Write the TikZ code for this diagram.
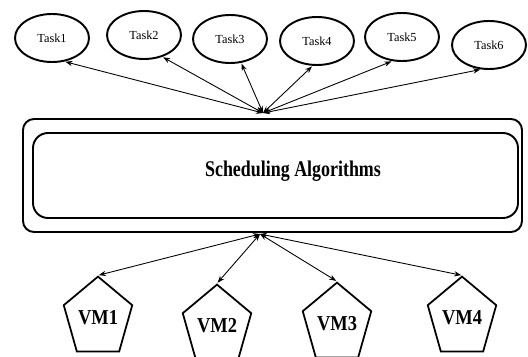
\documentclass[tikz,border=0pt]{standalone}
\usepackage{fontspec}
\setmainfont{Liberation Serif}
\usetikzlibrary{arrows.meta,shapes.geometric}

\tikzset{
    task/.style={draw, ellipse, line width=1.1pt, minimum width=1.48cm, minimum height=0.96cm, inner sep=0pt, font=\fontsize{7}{8}\selectfont},
    vm/.style={draw, regular polygon, regular polygon sides=5, line width=1pt, minimum size=1.44cm, inner sep=0pt, yscale=1.15, font=\fontsize{10.5}{12}\selectfont\bfseries},
    box/.style={draw, rounded corners=0.22cm, line width=1.1pt, inner sep=0pt},
    link/.style={<->, line width=0.5pt, shorten >=0.5pt},
    >={Stealth[length=4pt,width=3pt]}
}

\begin{document}
\begin{tikzpicture}
        \useasboundingbox (0,0) rectangle (10.56,7.12);

        % Tasks
        \node[task] (task1) at (1.04,6.36) {Task1};
        \node[task] (task2) at (2.88,6.42) {Task2};
        \node[task] (task3) at (4.60,6.34) {Task3};
        \node[task] (task4) at (6.34,6.30) {Task4};
        \node[task] (task5) at (8.04,6.38) {Task5};
        \node[task] (task6) at (9.78,6.22) {Task6};

        % Scheduler boxes
        \node[box, minimum width=9.98cm, minimum height=2.26cm] (outer) at (5.45,3.61) {};
        \node[box, rounded corners=0.3cm, minimum width=9.70cm, minimum height=1.70cm] (inner) at (5.51,3.61) {};
        \node[font=\fontsize{10.2}{12}\selectfont\bfseries, yscale=1.25] (title) at (5.86,3.70) {Scheduling Algorithms};

        % VMs
        \node[vm] (vm1) at (1.96,0.76) {VM1};
        \node[vm] (vm2) at (4.34,0.60) {VM2};
        \node[vm] (vm3) at (6.74,0.64) {VM3};
        \node[vm] (vm4) at (9.24,0.76) {VM4};

        % Hub points on the outer box
        \coordinate (up) at (5.26,4.86);
        \coordinate (down) at (5.20,2.44);

        % Links to tasks
        \draw[link] (up) -- (task1.-62);
        \draw[link] (up) -- (task2.-50);
        \draw[link] (up) -- (task3.-65);
        \draw[link] (up) -- (task4.-100);
        \draw[link] (up) -- (task5.-112);
        \draw[link] (up) -- (task6.-108);

        % Links to VMs
        \draw[link] (down) -- (vm1.corner 1);
        \draw[link] (down) -- (vm2.corner 1);
        \draw[link] (down) -- (vm3.corner 1);
        \draw[link] (down) -- (vm4.corner 1);
    \end{tikzpicture}
\end{document}
